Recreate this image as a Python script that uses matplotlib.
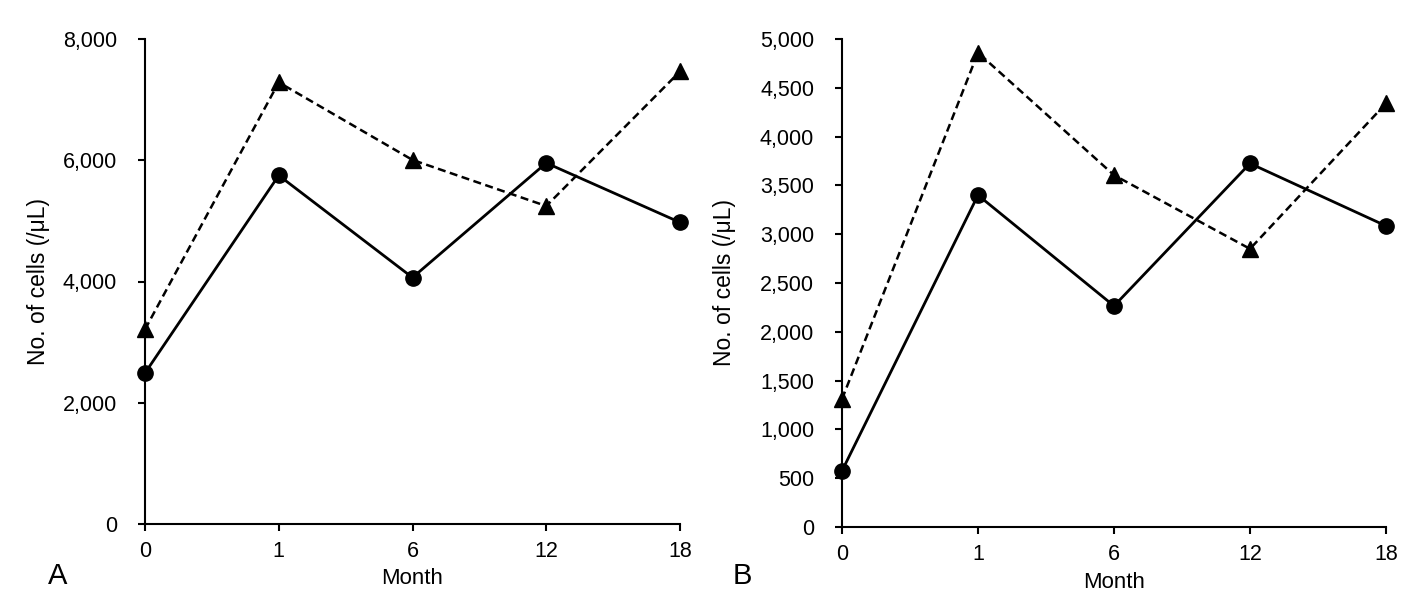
import matplotlib
matplotlib.use("Agg")
import matplotlib.pyplot as plt
from matplotlib.ticker import FuncFormatter

plt.rcParams['font.family'] = ['Liberation Sans', 'DejaVu Sans']

months = ["0", "1", "6", "12", "18"]

a_circle = [2490, 5750, 4065, 5955, 4975]
a_triangle = [3210, 7285, 6005, 5245, 7465]

b_circle = [575, 3400, 2265, 3725, 3085]
b_triangle = [1310, 4860, 3605, 2850, 4340]

W, H = 1420, 604
fig = plt.figure(figsize=(W / 100, H / 100), dpi=100)

def rect(x0, x1, ytop, ybot):
    return [x0 / W, 1 - ybot / H, (x1 - x0) / W, (ybot - ytop) / H]

axA = fig.add_axes(rect(145, 680, 39, 524))
axB = fig.add_axes(rect(842, 1386, 39, 527))

fmt = FuncFormatter(lambda v, p: f"{int(v):,}")

def style(ax, circ, tri, ymax, step, ylab_x_px):
    x = list(range(len(months)))
    ax.plot(x, tri, color='black', linestyle=(0, (3.2, 1.8)), linewidth=1.8,
            marker='^', markersize=12, clip_on=False, zorder=3)
    ax.plot(x, circ, color='black', linestyle='-', linewidth=2.0,
            marker='o', markersize=11, clip_on=False, zorder=4)
    ax.set_xlim(0, len(months) - 1)
    ax.set_ylim(0, ymax)
    ax.set_xticks(x)
    ax.set_xticklabels(months)
    ax.set_yticks(range(0, ymax + 1, step))
    ax.yaxis.set_major_formatter(fmt)
    for s in ['top', 'right']:
        ax.spines[s].set_visible(False)
    for s in ['left', 'bottom']:
        ax.spines[s].set_linewidth(1.5)
        ax.spines[s].set_color('black')
    ax.tick_params(axis='both', direction='out', length=5, width=1.5,
                   labelsize=15.5, colors='black')
    ax.tick_params(axis='y', pad=15)
    ax.tick_params(axis='x', pad=7)
    ax.set_xlabel("Month", fontsize=16)
    ax.set_ylabel("No. of cells (/μL)", fontsize=16.5)
    bb = ax.get_position()
    wpx = bb.width * W
    hpx = bb.height * H
    ax.xaxis.set_label_coords(0.5, -55 / hpx)
    ax.xaxis.label.set_va('center')
    ax.yaxis.set_label_coords(ylab_x_px / wpx, 0.5)
    ax.yaxis.label.set_va('center')

style(axA, a_circle, a_triangle, 8000, 2000, 38 - 145)
style(axB, b_circle, b_triangle, 5000, 500, 724 - 842)

fig.text(58 / W, 1 - 576 / H, "A", fontsize=21, ha='center', va='center')
fig.text(742 / W, 1 - 576 / H, "B", fontsize=21, ha='center', va='center')

fig.savefig("out.png", dpi=100)
